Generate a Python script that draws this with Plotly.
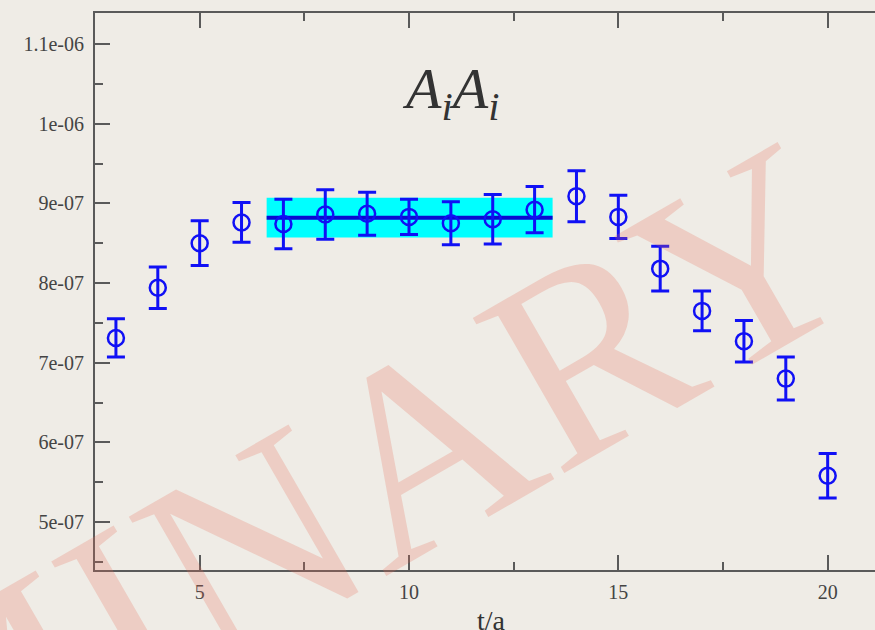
import plotly.graph_objects as go

# ---- data ----
t_vals = [3, 4, 5, 6, 7, 8, 9, 10, 11, 12, 13, 14, 15, 16, 17, 18, 19, 20]
corr = [7.31e-7, 7.94e-7, 8.50e-7, 8.76e-7, 8.74e-7, 8.86e-7, 8.87e-7, 8.83e-7,
        8.75e-7, 8.80e-7, 8.92e-7, 9.09e-7, 8.83e-7, 8.18e-7, 7.65e-7, 7.27e-7,
        6.80e-7, 5.58e-7]
corr_err = [0.24e-7, 0.26e-7, 0.28e-7, 0.25e-7, 0.31e-7, 0.31e-7, 0.27e-7, 0.22e-7,
            0.27e-7, 0.31e-7, 0.29e-7, 0.32e-7, 0.27e-7, 0.28e-7, 0.25e-7, 0.26e-7,
            0.27e-7, 0.28e-7]
fit_range = [6.6, 13.43]
fit_value = 8.82e-7
fit_error = 0.25e-7

y_tickvals = [5e-7, 6e-7, 7e-7, 8e-7, 9e-7, 1e-6, 1.1e-6]
y_ticktext = ["5e-07", "6e-07", "7e-07", "8e-07", "9e-07", "1e-06", "1.1e-06"]
x_tickvals = [5, 10, 15, 20]
x_ticktext = ["5", "10", "15", "20"]

# ---- layout geometry ----
W, H = 875, 630
ML, MR, MT, MB = 95, 0, 13, 60
PW, PH = W - ML - MR, H - MT - MB


def px2paper(px, py):
    return (px - ML) / PW, (H - MB - py) / PH


BLUE = "#1010f5"
AXC = "#5a5a5a"
BG = "#efece6"
SERIF = "Liberation Serif"

fig = go.Figure()

# fit band
fig.add_trace(go.Scatter(
    x=[fit_range[0], fit_range[1], fit_range[1], fit_range[0], fit_range[0]],
    y=[fit_value - fit_error, fit_value - fit_error, fit_value + fit_error,
       fit_value + fit_error, fit_value - fit_error],
    mode="lines", fill="toself", fillcolor="#00ffff",
    line=dict(width=0, color="#00ffff"), hoverinfo="skip", showlegend=False))
# fit central line
fig.add_trace(go.Scatter(
    x=fit_range, y=[fit_value, fit_value], mode="lines",
    line=dict(color="#0a0ad0", width=4), showlegend=False))
# data points
fig.add_trace(go.Scatter(
    x=t_vals, y=corr, mode="markers",
    marker=dict(symbol="circle-open", size=16, color=BLUE, line=dict(width=2.5, color=BLUE)),
    error_y=dict(type="data", array=corr_err, visible=True, color=BLUE,
                 thickness=3, width=9),
    showlegend=False))

# title-like label
tx, ty = px2paper(450, 92)
fig.add_annotation(x=tx, y=ty, xref="paper", yref="paper", showarrow=False,
                   text="<i>A<sub>i</sub>A<sub>i</sub></i>",
                   font=dict(family=SERIF, size=58, color="#333333"),
                   xanchor="center", yanchor="middle")

# x axis title
ax, ay = px2paper(491, 603)
fig.add_annotation(x=ax, y=ay, xref="paper", yref="paper", showarrow=False,
                   text="t/a", font=dict(family=SERIF, size=28, color="#333333"),
                   xanchor="center", yanchor="top")

# watermark
wx, wy = px2paper(20, 680)
fig.add_annotation(x=wx, y=wy, xref="paper", yref="paper", showarrow=False,
                   text="PRELIMINARY", textangle=-30,
                   font=dict(family=SERIF, size=275, color="rgba(232,110,88,0.24)"),
                   xanchor="center", yanchor="middle")

x_lo = 2.5
x_hi = 2.5 + (20 - 5) / (828 - 200) * PW
fig.update_xaxes(
    range=[x_lo, x_hi], tickmode="array", tickvals=x_tickvals, ticktext=x_ticktext,
    ticks="inside", ticklen=15, tickwidth=2, tickcolor=AXC,
    showline=True, linecolor=AXC, linewidth=2, mirror="ticks",
    showgrid=False, zeroline=False,
    minor=dict(ticks="inside", ticklen=8, tickwidth=2, tickcolor=AXC, dtick=2.5, tick0=0,
               showgrid=False),
    tickfont=dict(family=SERIF, size=20, color="#444444"), ticklabelstandoff=3)

y_lo = 5e-7 - (570 - 522) / 79.7 * 1e-7
y_hi = 1.1e-6 + (44 - 13) / 79.7 * 1e-7
fig.update_yaxes(
    range=[y_lo, y_hi], tickmode="array", tickvals=y_tickvals, ticktext=y_ticktext,
    ticks="inside", ticklen=15, tickwidth=2, tickcolor=AXC,
    showline=True, linecolor=AXC, linewidth=2, mirror=False,
    showgrid=False, zeroline=False,
    minor=dict(ticks="inside", ticklen=8, tickwidth=2, tickcolor=AXC, dtick=5e-8, tick0=0,
               showgrid=False),
    tickfont=dict(family=SERIF, size=20, color="#444444"), ticklabelstandoff=5)

fig.update_layout(
    width=W, height=H, autosize=False,
    margin=dict(l=ML, r=MR, t=MT, b=MB, pad=0),
    paper_bgcolor=BG, plot_bgcolor=BG, showlegend=False)

fig.write_html("out.html")
